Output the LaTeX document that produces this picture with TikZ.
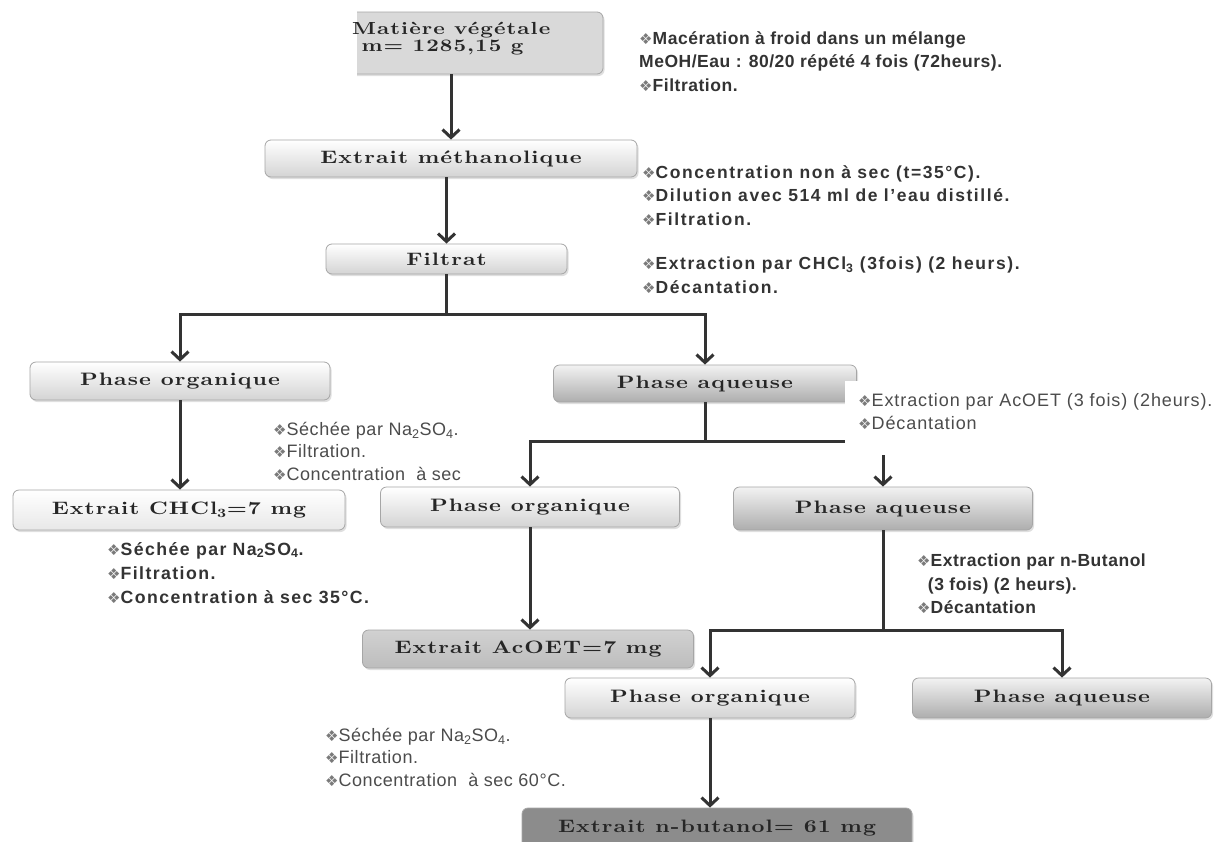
\documentclass[tikz,border=0pt]{standalone}
\usepackage{fontspec}
\setmainfont{Liberation Sans}
\newfontfamily\boxfont{lmroman10-bold.otf}[FakeStretch=1.25,LetterSpace=6]
\newfontfamily\symfont{DejaVu Sans}
\newfontfamily\annfont{Liberation Sans Bold}[LetterSpace=3]
\newfontfamily\annwfont{Liberation Sans Bold}[LetterSpace=9]
\newfontfamily\annbfont{Liberation Sans Bold}[LetterSpace=8]
\newfontfamily\annnfont{Liberation Sans}[LetterSpace=3]
\newfontfamily\annafont{Liberation Sans}[LetterSpace=5]
\usetikzlibrary{arrows.meta,shadows}
\definecolor{txt}{HTML}{333333}
\definecolor{bulc}{HTML}{7a7a7a}
\newcommand\bul{{\symfont\fontsize{15}{15}\selectfont\color{bulc}❖}}
\tikzset{
  box/.style={rounded corners=6pt, draw=black!35, line width=0.8pt, inner sep=0pt,
    font=\boxfont\fontsize{18}{20}\selectfont, text=black!85,
    drop shadow={opacity=0.25, shadow xshift=1.5pt, shadow yshift=-2pt}},
  lightbox/.style={box, top color=white, bottom color=black!17},
  whitebox/.style={box, top color=white, bottom color=black!9},
  darkbox/.style={box, top color=black!5, bottom color=black!32},
  ln/.style={line width=3pt, draw=black!80},
  arr/.style={ln, -{Straight Barb[length=8pt,width=17pt]}},
  ann/.style={inner sep=0pt, align=left, text=txt, font=\annfont\fontsize{17.5}{23.5}\selectfont},
  annw/.style={inner sep=0pt, align=left, text=txt, font=\annwfont\fontsize{17.5}{23.8}\selectfont},
  annn/.style={inner sep=0pt, align=left, text=black!70, font=\annnfont\fontsize{18}{22.5}\selectfont},
  anna/.style={inner sep=0pt, align=left, text=black!70, font=\annafont\fontsize{18}{23}\selectfont},
  annb/.style={inner sep=0pt, align=left, text=txt, font=\annbfont\fontsize{17.7}{24}\selectfont},
}
\begin{document}
\begin{tikzpicture}[x=1pt,y=-1pt]
\useasboundingbox[fill=white] (0,0) rectangle (1220,841);
% top box (clipped at left)
\begin{scope}
\clip (357,0) rectangle (1220,120);
\node[box, fill=black!15, minimum width=266, minimum height=62] (mat) at (470,43) {};
\end{scope}
\node[anchor=west, inner sep=0pt, align=left, font=\boxfont\fontsize{17.5}{17}\selectfont, text=black!85] (matt) at (352,39) {Matière végétale\\\ m= 1285,15 g};

\node[lightbox, minimum width=372, minimum height=37] (ext) at (451,158.5) {Extrait méthanolique};
\node[lightbox, minimum width=241, minimum height=30] (fil) at (446.5,259) {Filtrat};
\node[lightbox, minimum width=300, minimum height=38] (po1) at (180,381) {Phase organique};
\node[darkbox, minimum width=303, minimum height=37] (pa1) at (705,383.5) {Phase aqueuse};
\node[whitebox, minimum width=332, minimum height=40] (chcl) at (179,510) {Extrait CHCl\textsubscript{3}=7 mg};
\node[lightbox, minimum width=299, minimum height=40] (po2) at (530,507) {Phase organique};
\node[darkbox, minimum width=299, minimum height=43] (pa2) at (883,508.5) {Phase aqueuse};
\node[box, top color=black!18, bottom color=black!26, minimum width=331, minimum height=38] (aco) at (528,649) {Extrait AcOET=7 mg};
\node[lightbox, minimum width=290, minimum height=40] (po3) at (710,698) {Phase organique};
\node[darkbox, minimum width=299, minimum height=40] (pa3) at (1062,698) {Phase aqueuse};
\node[box, fill=black!45, minimum width=390, minimum height=44] (but) at (717,830) {\raisebox{7pt}{Extrait n-butanol= 61 mg}};

% connectors
\draw[arr] (mat.south -| ext.north) -- (ext.north);
\draw[arr] (ext.south -| fil.north) -- (fil.north);
\coordinate (j1) at (446.5,314);
\draw[ln] (fil.south) -- (j1);
\draw[arr] (j1) -| (po1.north);
\draw[arr] (j1) -| (pa1.north);
\draw[arr] (po1.south) -- (po1.south |- chcl.north);
\coordinate (j2) at (705,441);
\draw[ln] (pa1.south) -- (j2);
\draw[arr] (j2) -| (po2.north);
\draw[arr] (j2) -| (pa2.north);
\draw[arr] (po2.south) -- (po2.south |- aco.north);
\coordinate (j3) at (883,630);
\draw[ln] (pa2.south) -- (j3);
\draw[arr] (j3) -| (po3.north);
\draw[arr] (j3) -| (pa3.north);
\draw[arr] (po3.south) -- (po3.south |- but.north);

% white patch behind the AcOET note
\fill[white] (845,381) rectangle (1220,455);

% notes
\node[ann, anchor=north west] (n1) at (639,31) {\bul Macération à froid dans un mélange\\MeOH/Eau : 80/20 répété 4 fois (72heurs).\\\bul Filtration.};
\node[annw, anchor=north west] (n2) at (642,165) {\bul Concentration non à sec (t=35°C).\\\bul Dilution avec 514 ml de l’eau distillé.\\\bul Filtration.};
\node[annw, anchor=north west] (n3) at (642,257) {\bul Extraction par CHCl\textsubscript{3} (3fois) (2 heurs).\\\bul Décantation.};
\node[anna, anchor=north west] (n4) at (858,393) {\bul Extraction par AcOET (3 fois) (2heurs).\\\bul Décantation};
\node[annn, anchor=north west] (n5) at (273,422) {\bul Séchée par Na\textsubscript{2}SO\textsubscript{4}.\\\bul Filtration.\\\bul Concentration\ \ à sec};
\node[annb, anchor=north west] (n6) at (107,542) {\bul Séchée par Na\textsubscript{2}SO\textsubscript{4}.\\\bul Filtration.\\\bul Concentration à sec 35°C.};
\node[ann, anchor=north west] (n7) at (917,554) {\bul Extraction par n-Butanol\\\ \ (3 fois) (2 heurs).\\\bul Décantation};
\node[annn, anchor=north west] (n8) at (325,728) {\bul Séchée par Na\textsubscript{2}SO\textsubscript{4}.\\\bul Filtration.\\\bul Concentration\ \ à sec 60°C.};
\end{tikzpicture}
\end{document}
